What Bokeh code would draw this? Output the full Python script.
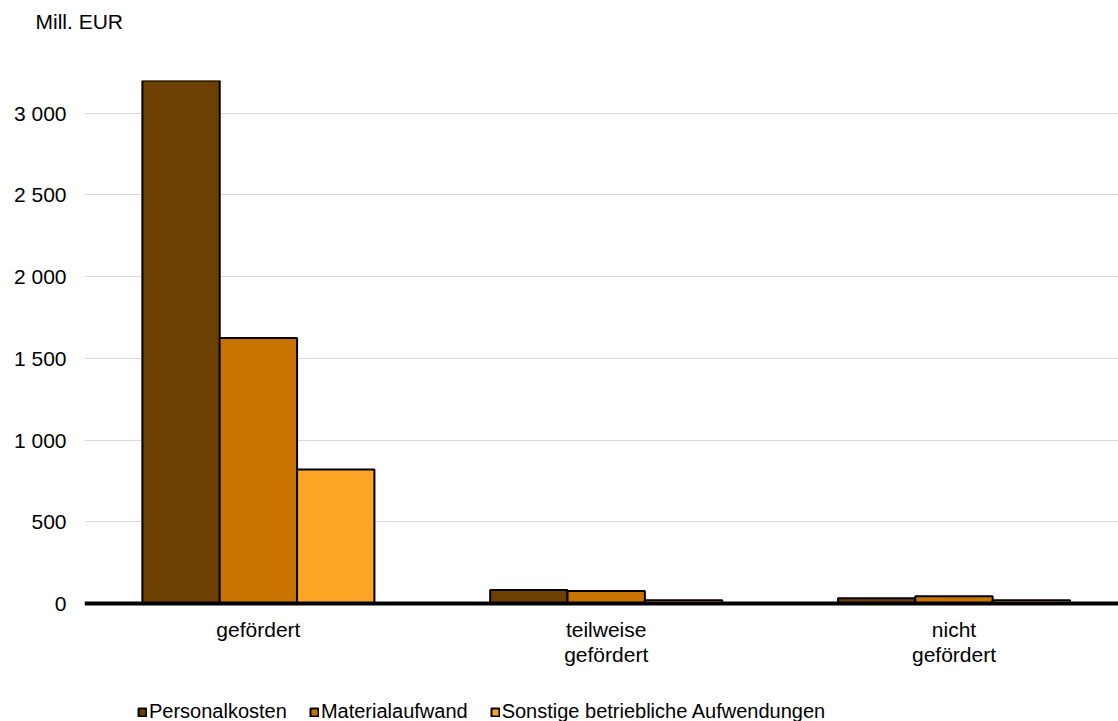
from bokeh.plotting import figure
from bokeh.models import ColumnDataSource, FixedTicker, Legend, LegendItem, Span
from bokeh.core.properties import value
from bokeh.transform import dodge
from bokeh.embed import file_html
from bokeh.resources import INLINE

# ---- data ----
categories = ["gefördert", "teilweise\ngefördert", "nicht\ngefördert"]
cat_pos = [0, 1, 2]
series = ["Personalkosten", "Materialaufwand", "Sonstige betriebliche Aufwendungen"]
personal = [3350, 83, 32]
material = [1625, 77, 44]
sonstige = [820, 20, 20]
y_ticks = [0, 500, 1000, 1500, 2000, 2500, 3000]
y_tick_labels = ["0", "500", "1 000", "1 500", "2 000", "2 500", "3 000"]
unit_label = "Mill. EUR"

colors = ["#6b4000", "#c97400", "#fda626"]
FONT = "Liberation Sans"
FS = "21px"
LFS = "20px"

src = ColumnDataSource(dict(x=cat_pos, p=personal, m=material, s=sonstige))
lab_src = ColumnDataSource(dict(x=cat_pos, y=[0] * len(cat_pos), t=categories))

# frame spans from the top of the value axis (3200) down to the page bottom;
# the space below zero holds the category labels and the legend
p = figure(width=1118, height=721, x_range=(-0.5, 2.473), y_range=(-722, 3200),
           output_backend="svg", toolbar_location=None,
           min_border_left=84, min_border_right=0, min_border_top=80, min_border_bottom=0)

w = 0.2224
renderers = []
for col, off, color in zip(["p", "m", "s"], [-w, 0.0, w], colors):
    r = p.vbar(x=dodge("x", off, range=p.x_range), top=col, bottom=0, width=w, source=src,
               fill_color=color, line_color="black", line_width=2)
    renderers.append(r)

# zero line
p.add_layout(Span(location=0, dimension="width", line_color="black", line_width=4))

# category labels
p.text(x="x", y="y", text="t", source=lab_src, y_offset=15,
       text_align="center", text_baseline="top", text_line_height=1.07,
       text_font=value(FONT), text_font_size=value(FS), text_color="black")

# title used as unit label (second, empty line lifts it to the top of the page)
p.title.text = unit_label + "\n\u00a0"
p.title.text_font = FONT
p.title.text_font_size = FS
p.title.text_font_style = "normal"
p.title.text_color = "black"
p.title.text_line_height = 1.85
p.title.align = "left"
p.title.vertical_align = "top"
p.title.offset = -49
p.title.standoff = 6

# axes
p.xaxis.visible = False

p.yaxis.ticker = FixedTicker(ticks=y_ticks)
p.yaxis.major_label_overrides = {k: v for k, v in zip(y_ticks, y_tick_labels)}
p.yaxis.axis_line_color = None
p.yaxis.major_tick_line_color = None
p.yaxis.minor_tick_line_color = None
p.yaxis.major_label_standoff = 12
p.yaxis.major_label_text_font = FONT
p.yaxis.major_label_text_font_size = FS
p.yaxis.major_label_text_color = "black"

p.xgrid.grid_line_color = None
p.ygrid.ticker = FixedTicker(ticks=y_ticks)
p.ygrid.grid_line_color = "#d9d9d9"
p.ygrid.grid_line_width = 1
p.outline_line_color = None

legend = Legend(items=[LegendItem(label=s, renderers=[r]) for s, r in zip(series, renderers)],
                orientation="horizontal", location=(53, -2), padding=0, margin=0,
                spacing=22, label_standoff=2, glyph_width=10, glyph_height=10,
                border_line_color=None, background_fill_alpha=0,
                label_text_font=FONT, label_text_font_size=LFS, label_text_color="black")
p.add_layout(legend)

open("out.html", "w").write(file_html(p, INLINE))
